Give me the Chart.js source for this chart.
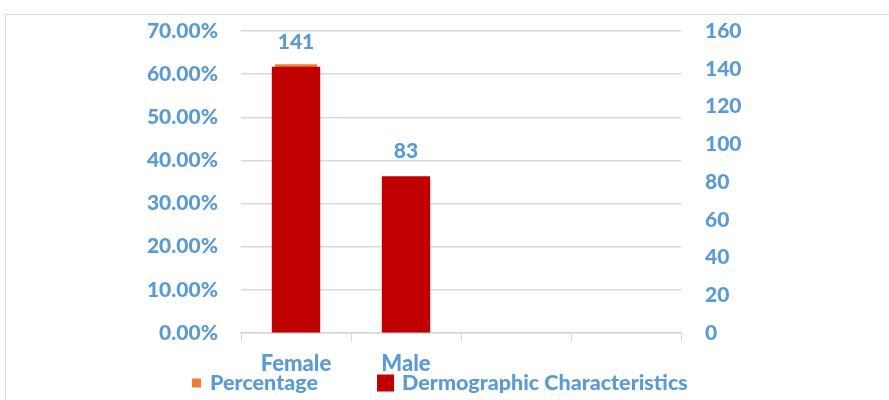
<!DOCTYPE html>
<html>
<head>
<meta charset="utf-8">
<script src="https://cdn.jsdelivr.net/npm/chart.js@4.4.1/dist/chart.umd.min.js"></script>
<style>
  html, body { margin: 0; padding: 0; background: #fff; overflow: hidden; }
  .frame { position: absolute; left: 5px; top: 14px; width: 1000px; height: 500px; border: 1px solid #d9d9d9; }
  .wrap { position: absolute; left: 0; top: 0; width: 889px; height: 400px; }
</style>
</head>
<body>
<div class="frame"></div>
<div class="wrap"><canvas id="chart" width="889" height="400"></canvas></div>
<script>
// ── Chart data ──
const categories = ["Female", "Male", "", ""];
const percentageValues = [62.3, 36.0, null, null];
const countValues = [141, 83, null, null];
const percentTicks = [0, 10, 20, 30, 40, 50, 60, 70];
const countTicks = [0, 20, 40, 60, 80, 100, 120, 140, 160];

const BLUE = "#5B9BD5";
const GRID = "#d9d9d9";
const FAMILY = "Lato, 'Open Sans', sans-serif";
const AXIS_FONT = { family: FAMILY, size: 21, weight: "900" };
const CAT_FONT = { family: FAMILY, size: 22, weight: "900" };

// value labels above the count bars
const valueLabels = {
  id: "valueLabels",
  afterDatasetsDraw(chart) {
    const ctx = chart.ctx;
    const meta = chart.getDatasetMeta(1);
    ctx.save();
    ctx.font = `900 21px ${FAMILY}`;
    ctx.fillStyle = BLUE;
    ctx.textAlign = "center";
    ctx.textBaseline = "middle";
    meta.data.forEach((bar, i) => {
      const v = countValues[i];
      if (v == null) return;
      ctx.fillText(String(v), bar.x, bar.y - 25);
    });
    ctx.restore();
  },
};

// legend drawn below the axis labels, like the original
const bottomLegend = {
  id: "bottomLegend",
  afterDraw(chart) {
    const ctx = chart.ctx;
    const items = [
      { text: chart.data.datasets[0].label, color: chart.data.datasets[0].backgroundColor, box: 9, gap: 9 },
      { text: chart.data.datasets[1].label, color: chart.data.datasets[1].backgroundColor, box: 17, gap: 8 },
    ];
    const cy = 383;
    let x = 192;
    ctx.save();
    ctx.font = `900 21.5px ${FAMILY}`;
    ctx.textBaseline = "middle";
    ctx.textAlign = "left";
    items.forEach((it) => {
      ctx.fillStyle = it.color;
      ctx.fillRect(x, cy - it.box / 2, it.box, it.box);
      x += it.box + it.gap;
      ctx.fillStyle = BLUE;
      ctx.fillText(it.text, x, cy);
      x += ctx.measureText(it.text).width + 59;
    });
    ctx.restore();
  },
};

// keep the label gap from pushing the plot area down
const fitY = (width) => (s) => {
  s.width = width;
  s.paddingTop = 12;
  s.paddingBottom = 12;
};

new Chart(document.getElementById("chart"), {
  type: "bar",
  data: {
    labels: categories,
    datasets: [
      {
        label: "Percentage",
        data: percentageValues,
        backgroundColor: "#ED7D31",
        yAxisID: "y",
        grouped: false,
        order: 1,
        categoryPercentage: 1,
        barPercentage: 0.38,
      },
      {
        label: "Dermographic Characteristics",
        data: countValues,
        backgroundColor: "#C00000",
        yAxisID: "y1",
        grouped: false,
        order: 0,
        categoryPercentage: 1,
        barPercentage: 0.44,
      },
    ],
  },
  options: {
    responsive: false,
    animation: false,
    layout: { padding: { top: 31, bottom: 27, left: 0, right: 0 } },
    plugins: { legend: { display: false }, tooltip: { enabled: false } },
    scales: {
      x: {
        grid: { offset: true, drawOnChartArea: false, drawTicks: true, tickLength: 9, color: GRID },
        border: { color: GRID, width: 1.5 },
        ticks: { font: CAT_FONT, color: BLUE, padding: 9, maxRotation: 0 },
        afterFit: (s) => { s.height = 40; },
      },
      y: {
        position: "left",
        min: 0,
        max: 70,
        grid: { color: GRID, drawTicks: false, lineWidth: 1.5 },
        border: { display: false },
        afterBuildTicks: (s) => { s.ticks = percentTicks.map((v) => ({ value: v })); },
        ticks: { font: AXIS_FONT, color: BLUE, padding: 23, callback: (v) => v.toFixed(2) + "%" },
        afterFit: fitY(241),
      },
      y1: {
        position: "right",
        min: 0,
        max: 160,
        grid: { drawOnChartArea: false, drawTicks: false },
        border: { display: false },
        afterBuildTicks: (s) => { s.ticks = countTicks.map((v) => ({ value: v })); },
        ticks: { font: AXIS_FONT, color: BLUE, padding: 24 },
        afterFit: fitY(208),
      },
    },
  },
  plugins: [valueLabels, bottomLegend],
});
</script>
</body>
</html>
